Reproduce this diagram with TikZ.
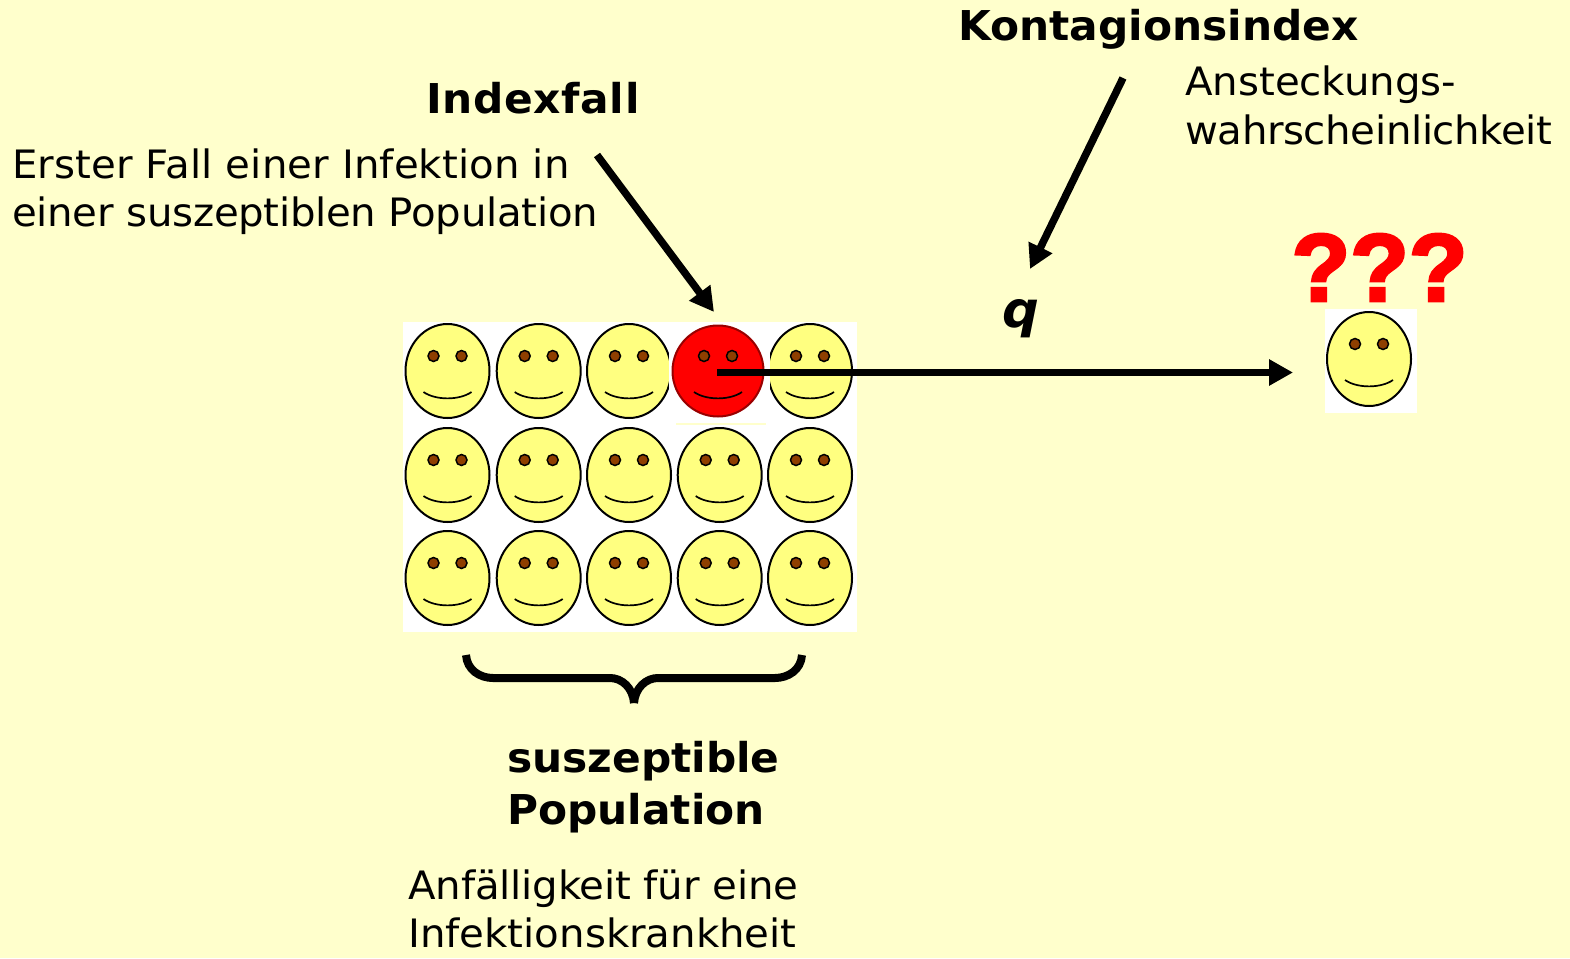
\documentclass[tikz,border=0pt]{standalone}
\usepackage{fontspec}
\setmainfont[FakeStretch=1.03]{DejaVu Sans}
\newfontfamily\askfont[FakeBold=3]{Liberation Sans}
\usetikzlibrary{arrows.meta}
\usetikzlibrary{shapes.geometric}
\definecolor{slidebg}{HTML}{FFFFCC}
\definecolor{faceyellow}{HTML}{FFFF80}
\definecolor{eyebrown}{HTML}{8F3F00}
\tikzset{x=1pt, y=-1pt,
         head/.style={anchor=base west, inner sep=0pt, font=\fontsize{41.1}{51}\selectfont\bfseries},
         body/.style={anchor=base west, inner sep=0pt, font=\fontsize{39.1}{48}\selectfont},
         face/.style={ellipse, draw=black, line width=2pt, fill=faceyellow, minimum width=84pt, minimum height=94pt, inner sep=0pt},
         arr/.style={line width=7.5pt, -{Triangle[length=24pt, width=25pt]}},
         smile/.pic={
           \fill[eyebrown, draw=black, line width=1.5pt] (-14,-15) circle[radius=5.5pt];
           \fill[eyebrown, draw=black, line width=1.5pt] (14,-15) circle[radius=5.5pt];
           \draw[line width=1.7pt] (-24,21) .. controls (-12,29.5) and (12,29.5) .. (24,21);
         }}
\begin{document}
\begin{tikzpicture}
    \useasboundingbox (0,0) rectangle (1570,958);
    \fill[slidebg] (0,0) rectangle (1570,958);
    % the group of faces
    \fill[white] (403,322) rectangle (857,632);
    \foreach \x in {447.5,538.7,629,810} {
      \node[face] at (\x,371) {};
      \pic at (\x,371) {smile};
    }
    \fill[white] (669,322) rectangle (770,424);
    \draw[slidebg, line width=1.5pt] (676,424) -- (766,424);
    \foreach \y in {475,578} {
      \foreach \x in {447.5,538.7,629,719.7,810} {
        \node[face] at (\x,\y) {};
        \pic at (\x,\y) {smile};
      }
    }
    \node[face, fill=red, draw=red!60!black, minimum width=91pt, minimum height=91pt] (Red) at (718,371) {};
    \pic at (718,371) {smile};
    % the lone face
    \fill[white] (1325,309) rectangle (1417,413);
    \node[face] (Lone) at (1369,359) {};
    \pic at (1369,359) {smile};
    % texts
    \node[head] (Kont) at (958,41) {Kontagionsindex};
    \node[body] (Ansteck) at (1185,95) {Ansteckungs-};
    \node[body] (Wahr) at (1185,144) {\addfontfeature{LetterSpace=-1}wahrscheinlichkeit};
    \node[head] (Index) at (426,113) {\addfontfeature{LetterSpace=1.6}Indexfall};
    \node[body] (Erst) at (12,178) {\addfontfeature{LetterSpace=0.35}Erster Fall einer Infektion in};
    \node[body] (Einer) at (12,226) {\addfontfeature{LetterSpace=-0.7}einer suszeptiblen Population};
    \node[head] (Susz) at (507,772) {suszeptible};
    \node[head] (Popu) at (507,824) {Population};
    \node[body] (Anf) at (408,899) {\addfontfeature{LetterSpace=-0.4}Anfälligkeit für eine};
    \node[body] (Inf) at (408,947) {Infektionskrankheit};
    \node[anchor=base, inner sep=0pt, font=\fontsize{50}{60}\selectfont\bfseries\itshape] (Q) at (1021,327) {q};
    \node[anchor=base, inner sep=0pt, text=red, font=\askfont\fontsize{96}{96}\selectfont\bfseries] (Ask) at (1379.5,301) {???};
    % arrows
    \coordinate (IndexTail) at (597,155);
    \coordinate (IndexTip) at (714,312);
    \coordinate (KontTail) at (1123,78);
    \coordinate (KontTip) at (1030,269);
    \coordinate (RedCentre) at (717,372.5);
    \coordinate (LoneTip) at (1293,372.5);
    \draw[arr] (IndexTail) -- (IndexTip);
    \draw[arr] (KontTail) -- (KontTip);
    \draw[arr] (RedCentre) -- (LoneTip);
    % brace
    \draw[line width=8pt] (466,655) .. controls (467,670) and (480,678) .. (493,678) -- (610,678)
      .. controls (622,678) and (633,688) .. (634,703);
    \draw[line width=8pt] (802,655) .. controls (801,670) and (788,678) .. (775,678) -- (658,678)
      .. controls (646,678) and (635,688) .. (634,703);
\end{tikzpicture}
\end{document}
